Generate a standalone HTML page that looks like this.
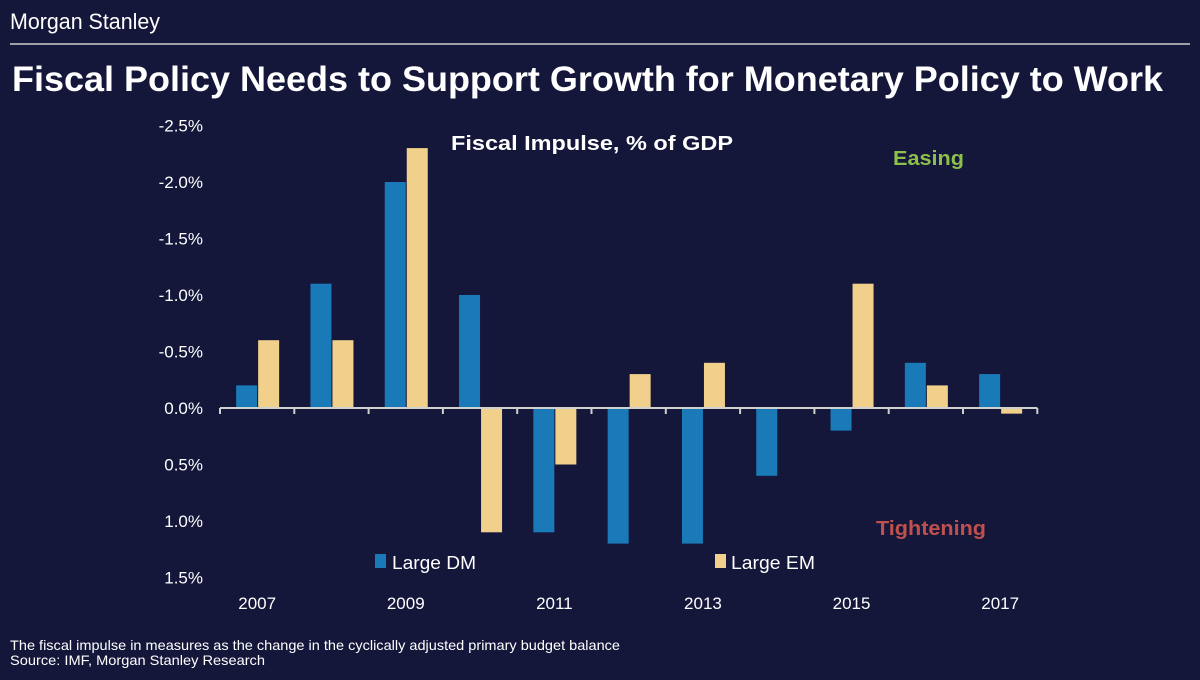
<!DOCTYPE html>
<html><head><meta charset="utf-8"><style>
body{margin:0;width:1200px;height:680px;background:#14163a;overflow:hidden;font-family:"Liberation Sans",Arial,sans-serif;color:#fff}
svg{position:absolute;left:0;top:0}
</style></head><body>
<svg width="1200" height="680">
<text x="10" y="29" font-size="22" fill="#fff" textLength="150" lengthAdjust="spacingAndGlyphs">Morgan Stanley</text>
<rect x="10" y="43" width="1180" height="2" fill="#a0a0a8"/>
<text x="12" y="91" font-size="35" font-weight="bold" fill="#fff" textLength="1151" lengthAdjust="spacingAndGlyphs">Fiscal Policy Needs to Support Growth for Monetary Policy to Work</text>
<text x="451" y="150" font-size="20" font-weight="bold" fill="#fff" textLength="282" lengthAdjust="spacingAndGlyphs">Fiscal Impulse, % of GDP</text>
<text x="893" y="165" font-size="20" font-weight="bold" fill="#8cc04a" textLength="71" lengthAdjust="spacingAndGlyphs">Easing</text>
<text x="876" y="535" font-size="20" font-weight="bold" fill="#c0504d" textLength="110" lengthAdjust="spacingAndGlyphs">Tightening</text>
<g id="yaxis"></g><g id="bars"></g><g id="xaxis"></g>
<rect x="375" y="554" width="11" height="14" fill="#1a7ab8"/>
<text x="392" y="569" font-size="18" fill="#fff" textLength="84" lengthAdjust="spacingAndGlyphs">Large DM</text>
<rect x="715" y="554" width="11" height="14" fill="#f0d08a"/>
<text x="731" y="569" font-size="18" fill="#fff" textLength="84" lengthAdjust="spacingAndGlyphs">Large EM</text>
<text x="10" y="650" font-size="14" fill="#fff" textLength="610" lengthAdjust="spacingAndGlyphs">The fiscal impulse in measures as the change in the cyclically adjusted primary budget balance</text>
<text x="10" y="665" font-size="14" fill="#fff" textLength="255" lengthAdjust="spacingAndGlyphs">Source: IMF, Morgan Stanley Research</text>
</svg>
<script>
const years=[2007,2008,2009,2010,2011,2012,2013,2014,2015,2016,2017];
const dm=[-0.2,-1.1,-2.0,-1.0,1.1,1.2,1.2,0.6,0.2,-0.4,-0.3];
const em=[-0.6,-0.6,-2.3,1.1,0.5,-0.3,-0.4,0,-1.1,-0.2,0.05];
const yTicks=[-2.5,-2.0,-1.5,-1.0,-0.5,0,0.5,1.0,1.5];
const yLabels=["-2.5%","-2.0%","-1.5%","-1.0%","-0.5%","0.0%","0.5%","1.0%","1.5%"];
const ns="http://www.w3.org/2000/svg";
const y=v=>408+v*113;
const x0=220,gw=74.3;
const gx=i=>x0+gw*i+gw/2;
function mk(t,a,p){const e=document.createElementNS(ns,t);for(const k in a)e.setAttribute(k,a[k]);p.appendChild(e);return e;}
const ya=document.getElementById('yaxis');
yTicks.forEach((v,i)=>{const t=mk('text',{x:203,y:y(v)+6,'font-size':17,fill:'#fff','text-anchor':'end'},ya);t.textContent=yLabels[i];

});
const b=document.getElementById('bars');
years.forEach((yr,i)=>{
 const c=gx(i);
 [[dm[i],c-21,'#1a7ab8','bar-dm-'+yr],[em[i],c+1,'#f0d08a','bar-em-'+yr]].forEach(([v,xx,col,nm])=>{
  const r=mk('rect',{x:xx,y:Math.min(y(0),y(v)),width:21,height:Math.abs(y(v)-y(0)),fill:col},b);
  
  
 });
});
const xa=document.getElementById('xaxis');
const ax=mk('line',{x1:x0,x2:x0+gw*11,y1:408,y2:408,stroke:'#d0d0d0','stroke-width':2},xa);


for(let i=0;i<=11;i++){const tk=mk('line',{x1:x0+gw*i,x2:x0+gw*i,y1:408,y2:414,stroke:'#d0d0d0','stroke-width':2},xa);

}
years.forEach((yr,i)=>{if(i%2)return;const t=mk('text',{x:gx(i),y:609,'font-size':17,fill:'#fff','text-anchor':'middle'},xa);t.textContent=yr;

});
</script>
</body></html>
